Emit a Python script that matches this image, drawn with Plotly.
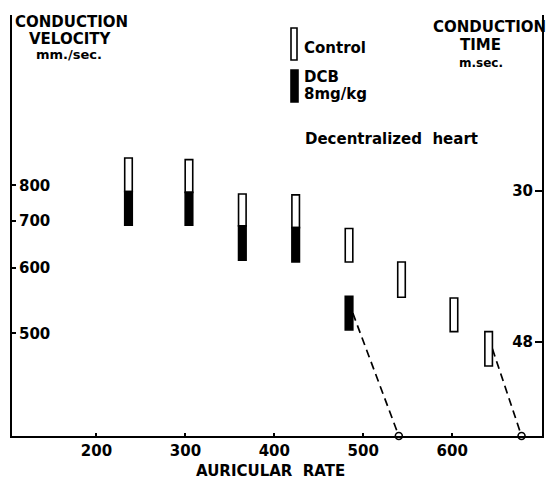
import plotly.graph_objects as go

# Auricular rate (beats/min) at which conduction was measured
rates = [236, 304, 364, 424, 484, 543, 602, 641]
# Conduction time range (ms) under control conditions
control_start_ms = [26.1, 26.3, 30.4, 30.5, 34.5, 38.5, 42.8, 46.8]
control_end_ms = [30.1, 30.2, 34.2, 34.4, 38.5, 42.7, 46.8, 50.9]
# Conduction time range (ms) after DCB 8 mg/kg
dcb_rates = [236, 304, 364, 424, 484]
dcb_start_ms = [30.1, 30.2, 34.2, 34.4, 42.6]
dcb_end_ms = [34.1, 34.1, 38.3, 38.5, 46.6]
# Rates at which conduction failed (block), and the bar each one follows
block_rates = [540, 678]
block_series = ["dcb", "control"]

velocity_ticks = [800, 700, 600, 500]   # mm/sec
time_ticks = [30, 48]                   # ms
rate_ticks = [200, 300, 400, 500, 600]

PATH_MM = 23.5          # conduction path length linking velocity and time
X_RANGE = [105, 701]
Y_RANGE = [59.24, 9.06]  # conduction time, increasing downward
BAR_W = 8.5

FONT = "DejaVu Sans"
L, R, T, B = 12, 5, 15, 44
W, H = 547, 480
PW, PH = W - L - R, H - T - B


def px_x(p):
    return (p - L) / PW


def px_y(p):
    return (H - B - p) / PH


fig = go.Figure()

# Bars are plotted against the conduction-time axis (right)
fig.add_trace(go.Bar(
    x=rates, base=control_start_ms,
    y=[e - s for s, e in zip(control_start_ms, control_end_ms)],
    width=BAR_W, yaxis="y2",
    marker=dict(color="white", line=dict(color="black", width=1.6)),
    showlegend=False, hoverinfo="skip",
))
fig.add_trace(go.Bar(
    x=dcb_rates, base=dcb_start_ms,
    y=[e - s for s, e in zip(dcb_start_ms, dcb_end_ms)],
    width=BAR_W, yaxis="y2",
    marker=dict(color="black", line=dict(color="black", width=1.6)),
    showlegend=False, hoverinfo="skip",
))

# Dashed lines from the last conducted beat to the block point on the rate axis
series = {
    "control": (rates, control_start_ms, control_end_ms),
    "dcb": (dcb_rates, dcb_start_ms, dcb_end_ms),
}
for br, key in zip(block_rates, block_series):
    xs, ss, es = series[key]
    x0 = xs[-1] + BAR_W / 2
    y0 = (ss[-1] + es[-1]) / 2
    fig.add_trace(go.Scatter(
        x=[x0, br], y=[y0, Y_RANGE[0]], mode="lines",
        line=dict(color="black", width=1.7, dash="8px,5px"),
        showlegend=False, hoverinfo="skip", cliponaxis=False,
    ))

fig.add_trace(go.Scatter(
    x=block_rates, y=[Y_RANGE[0]] * len(block_rates), mode="markers",
    marker=dict(symbol="circle", size=7, color="white",
                line=dict(color="black", width=1.6)),
    showlegend=False, hoverinfo="skip", cliponaxis=False,
))

tick_font = dict(family=FONT, size=15, color="black", weight="bold")

fig.update_layout(
    width=W, height=H,
    margin=dict(l=L, r=R, t=T, b=B),
    paper_bgcolor="white", plot_bgcolor="white",
    barmode="overlay",
    xaxis=dict(
        range=X_RANGE, tickvals=rate_ticks, ticks="inside", ticklen=3,
        tickwidth=1.5, tickcolor="black", showline=True, linewidth=2,
        linecolor="black", showgrid=False, zeroline=False, tickfont=tick_font,
    ),
    yaxis=dict(
        range=Y_RANGE,
        tickvals=[PATH_MM * 1000 / v for v in velocity_ticks],
        ticktext=[str(v) for v in velocity_ticks],
        ticks="inside", ticklen=4, tickwidth=1.5, tickcolor="black",
        ticklabelposition="inside", ticklabelstandoff=3,
        showline=True, linewidth=2,
        linecolor="black", showgrid=False, zeroline=False, tickfont=tick_font,
    ),
    yaxis2=dict(
        range=Y_RANGE, overlaying="y", side="right", tickvals=time_ticks,
        ticks="inside", ticklen=7, tickwidth=1.5, tickcolor="black",
        ticklabelposition="inside", ticklabelstandoff=2,
        showline=True, linewidth=2,
        linecolor="black", showgrid=False, zeroline=False, tickfont=tick_font,
    ),
)


def label(text, x, y, size=15, anchor="center"):
    fig.add_annotation(
        text=text, xref="paper", yref="paper", x=px_x(x), y=px_y(y),
        xanchor=anchor, yanchor="middle", showarrow=False,
        font=dict(family=FONT, size=size, color="black", weight="bold"),
    )


label("CONDUCTION", 71.5, 22)
label("VELOCITY", 69.5, 39)
label("mm./sec.", 68.5, 55, size=13)
label("CONDUCTION", 489, 27.5)
label("TIME", 480, 44.5)
label("m.sec.", 480.5, 63, size=12)
label("Control", 302, 48, anchor="left")
label("DCB", 302, 77, anchor="left")
label("8mg/kg", 302, 94, anchor="left")
label("Decentralized\u00a0\u00a0heart", 391.5, 139)
label("AURICULAR\u00a0\u00a0RATE", 270.5, 471)

# Legend swatches
fig.add_shape(type="rect", xref="paper", yref="paper",
              x0=px_x(291), x1=px_x(297), y0=px_y(60), y1=px_y(28),
              fillcolor="white", line=dict(color="black", width=1.6))
fig.add_shape(type="rect", xref="paper", yref="paper",
              x0=px_x(291), x1=px_x(298), y0=px_y(102), y1=px_y(70),
              fillcolor="black", line=dict(color="black", width=1.6))

fig.write_html("out.html")
